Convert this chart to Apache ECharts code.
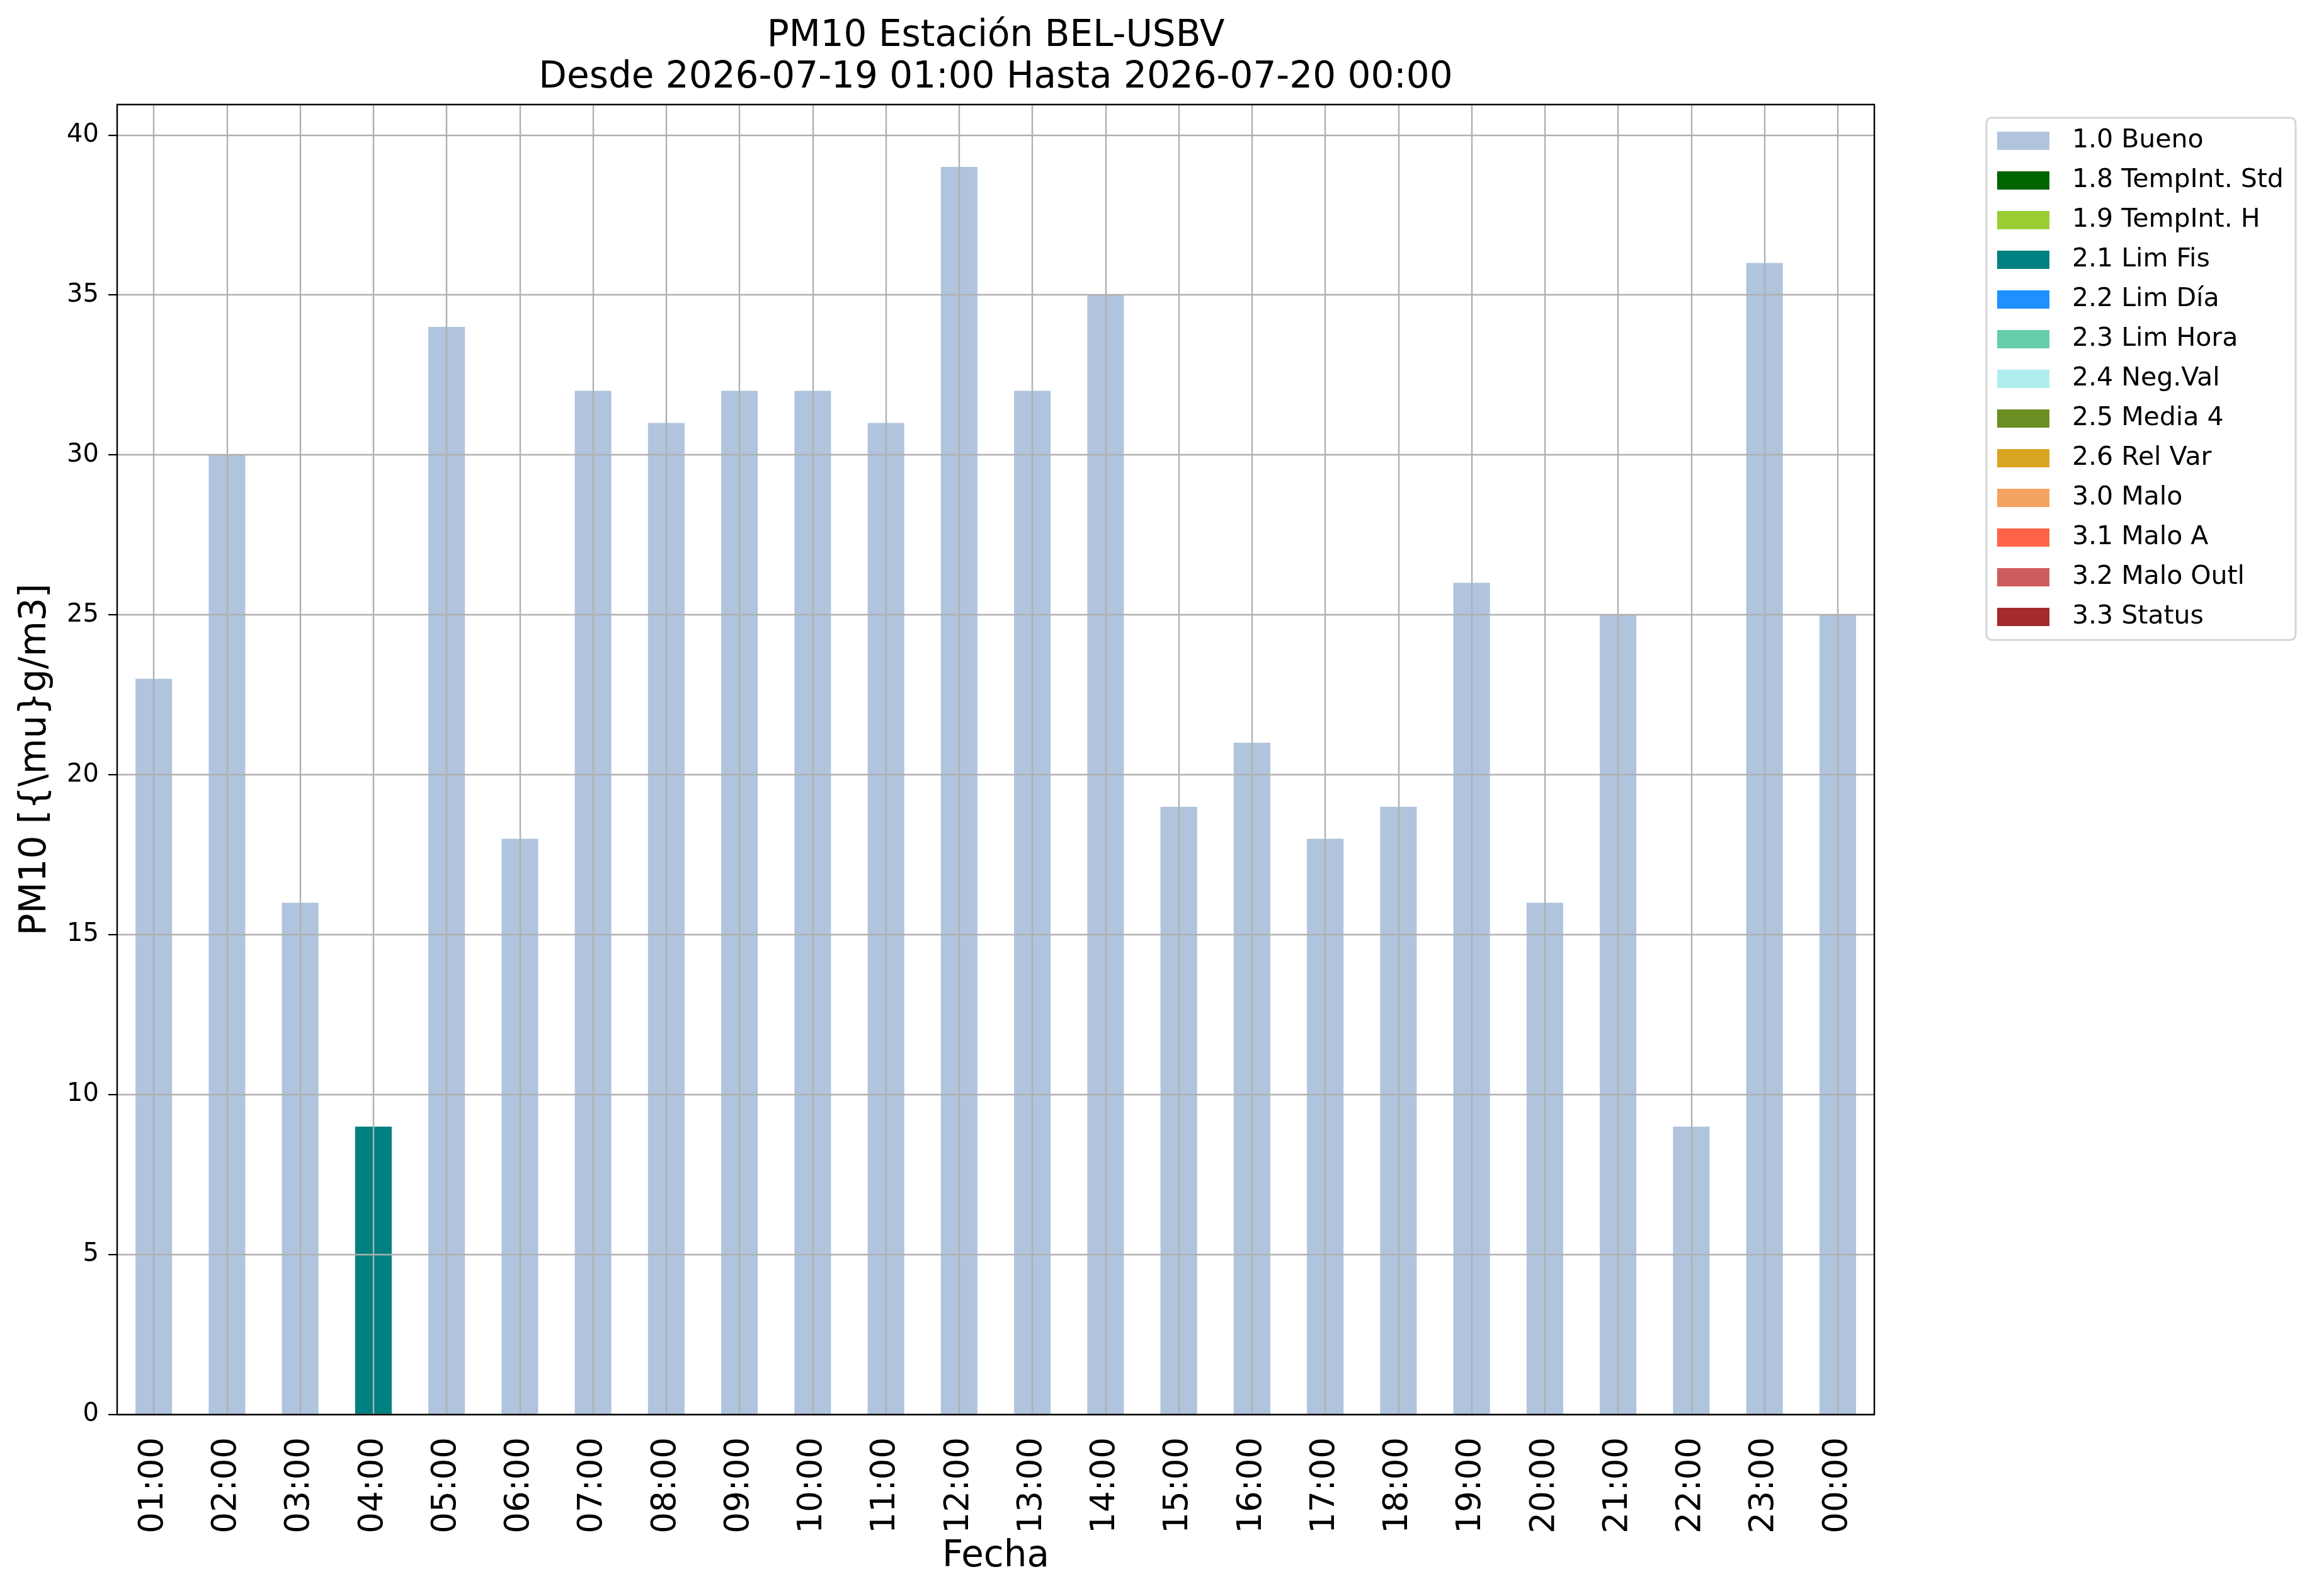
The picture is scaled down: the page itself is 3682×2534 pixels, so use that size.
<!DOCTYPE html>
<html>
<head>
<meta charset="utf-8">
<script src="https://cdn.jsdelivr.net/npm/echarts@6/dist/echarts.min.js"></script>
<style>
html, body { margin: 0; padding: 0; background: #fff; }
#chart { width: 3682px; height: 2534px; }
</style>
</head>
<body>
<div id="chart"></div>
<script>
// horas del dia y valores PM10
const hours = ['01:00', '02:00', '03:00', '04:00', '05:00', '06:00', '07:00', '08:00',
    '09:00', '10:00', '11:00', '12:00', '13:00', '14:00', '15:00', '16:00',
    '17:00', '18:00', '19:00', '20:00', '21:00', '22:00', '23:00', '00:00'];
const values = [23, 30, 16, 9, 34, 18, 32, 31, 32, 32, 31, 39,
    32, 35, 19, 21, 18, 19, 26, 16, 25, 9, 36, 25];
// flag de validacion de cada hora
const hourFlags = ['1.0', '1.0', '1.0', '2.1', '1.0', '1.0', '1.0', '1.0',
    '1.0', '1.0', '1.0', '1.0', '1.0', '1.0', '1.0', '1.0',
    '1.0', '1.0', '1.0', '1.0', '1.0', '1.0', '1.0', '1.0'];
const flagCodes = ['1.0', '1.8', '1.9', '2.1', '2.2', '2.3', '2.4', '2.5', '2.6', '3.0', '3.1', '3.2', '3.3'];
const flagNames = ['1.0 Bueno', '1.8 TempInt. Std', '1.9 TempInt. H', '2.1 Lim Fis', '2.2 Lim Día',
    '2.3 Lim Hora', '2.4 Neg.Val', '2.5 Media 4', '2.6 Rel Var', '3.0 Malo', '3.1 Malo A',
    '3.2 Malo Outl', '3.3 Status'];
const flagColors = ['#b0c4de', '#006400', '#9acd32', '#008080', '#1e90ff', '#66cdaa', '#afeeee',
    '#6b8e23', '#daa520', '#f4a460', '#ff6347', '#cd5c5c', '#a52a2a'];
const yTicks = [0, 5, 10, 15, 20, 25, 30, 35, 40];

const FONT = '"DejaVu Sans", sans-serif';
const GRID = { left: 186, top: 166, right: 3682 - 2976, bottom: 2534 - 2246 };

let myChart = echarts.init(document.getElementById('chart'), null, { renderer: 'canvas' });

let series = flagCodes.map((code, k) => {
    return {
        name: flagNames[k],
        type: 'bar',
        stack: 'flag',
        barWidth: '50%',
        xAxisIndex: 0,
        yAxisIndex: 0,
        itemStyle: { color: flagColors[k] },
        emphasis: { disabled: true },
        data: values.map((v, i) => hourFlags[i] === code ? v : '-')
    };
});

myChart.setOption({
    backgroundColor: '#fff',
    animation: false,
    textStyle: { fontFamily: FONT },
    graphic: [{
        type: 'text',
        x: 1581,
        y: 25,
        style: {
            text: 'PM10 Estación BEL-USBV\nDesde 2026-07-19 01:00 Hasta 2026-07-20 00:00',
            align: 'center',
            verticalAlign: 'top',
            fontSize: 58,
            fontFamily: FONT,
            lineHeight: 66,
            fill: '#000'
        }
    }],
    legend: {
        orient: 'vertical',
        left: 3154,
        top: 187,
        padding: [16, 19, 16, 17],
        itemWidth: 83,
        itemHeight: 29,
        itemGap: 22,
        icon: 'rect',
        selectedMode: false,
        backgroundColor: 'rgba(255,255,255,0.8)',
        borderColor: '#d6d6d6',
        borderWidth: 3,
        borderRadius: 8,
        textStyle: { fontSize: 41, fontFamily: FONT, color: '#000', padding: [0, 0, 0, 31] },
        data: flagNames
    },
    grid: GRID,
    xAxis: [{
        type: 'category',
        data: hours,
        z: 6,
        name: 'Fecha',
        nameLocation: 'middle',
        nameGap: 195,
        nameTextStyle: { fontSize: 58, fontFamily: FONT, color: '#000' },
        axisLine: { lineStyle: { color: '#000', width: 2.4 } },
        axisTick: { alignWithLabel: true, length: 14, lineStyle: { color: '#000', width: 2.2 } },
        axisLabel: { rotate: 90, fontSize: 53, fontFamily: FONT, color: '#000', margin: 36, interval: 0 },
        splitLine: { show: true, alignWithLabel: true, lineStyle: { color: '#b0b0b0', width: 2.4 } }
    }, {
        type: 'category',
        data: hours,
        position: 'top',
        z: 7,
        axisLine: { show: true, onZero: false, lineStyle: { color: '#000', width: 2.4 } },
        axisTick: { show: false },
        axisLabel: { show: false },
        splitLine: { show: false }
    }],
    yAxis: [{
        type: 'value',
        min: 0,
        max: 40.95,
        interval: 5,
        z: 5,
        name: 'PM10 [{\\mu}g/m3]',
        nameLocation: 'middle',
        nameGap: 100,
        nameTextStyle: { fontSize: 58, fontFamily: FONT, color: '#000' },
        axisLine: { show: true, lineStyle: { color: '#000', width: 2.4 } },
        axisTick: { show: true, length: 14, customValues: yTicks, lineStyle: { color: '#000', width: 2.2 } },
        axisLabel: { fontSize: 40, fontFamily: FONT, color: '#000', margin: 29, customValues: yTicks },
        splitLine: { show: true, lineStyle: { color: '#b0b0b0', width: 2.4 } }
    }, {
        type: 'value',
        min: 0,
        max: 40.95,
        position: 'right',
        z: 7,
        axisLine: { show: true, onZero: false, lineStyle: { color: '#000', width: 2.4 } },
        axisTick: { show: false },
        axisLabel: { show: false },
        splitLine: { show: false }
    }],
    series: series
});
</script>
</body>
</html>
